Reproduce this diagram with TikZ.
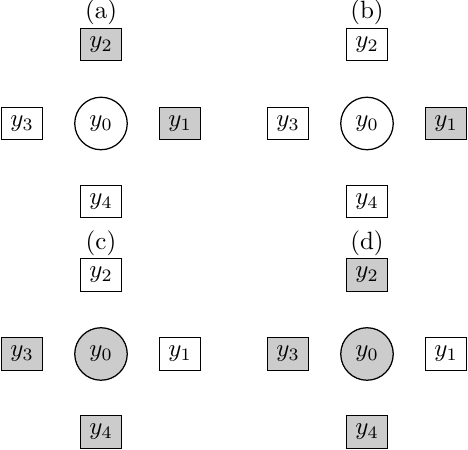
\documentclass[tikz,border=0pt]{standalone}
\begin{document}
\begin{tikzpicture}[x=0.4pt,y=-0.4pt,
  vbox/.style={draw,line width=0.5pt,minimum width=16.6pt,minimum height=13pt,inner sep=0pt},
  vcirc/.style={draw,circle,line width=0.5pt,minimum size=21pt,inner sep=0pt},
  obs/.style={fill=black!20},
  ttl/.style={inner sep=0pt}]
\useasboundingbox (0,0) rectangle (468,450);
% panel a
\begin{scope}[shift={(101,123.5)}]
  \node[ttl] (ta) at (0,-111) {(a)};
  \node[vbox,obs] (a2) at (0,-79) {$y_2$};
  \node[vbox] (a3) at (-79,0) {$y_3$};
  \node[vcirc] (a0) at (0,0) {$y_0$};
  \node[vbox,obs] (a1) at (79,0) {$y_1$};
  \node[vbox] (a4) at (0,78) {$y_4$};
\end{scope}
% panel b
\begin{scope}[shift={(367,123.5)}]
  \node[ttl] (tb) at (0,-111) {(b)};
  \node[vbox] (b2) at (0,-79) {$y_2$};
  \node[vbox] (b3) at (-79,0) {$y_3$};
  \node[vcirc] (b0) at (0,0) {$y_0$};
  \node[vbox,obs] (b1) at (79,0) {$y_1$};
  \node[vbox] (b4) at (0,78) {$y_4$};
\end{scope}
% panel c
\begin{scope}[shift={(101,354)}]
  \node[ttl] (tc) at (0,-111) {(c)};
  \node[vbox] (c2) at (0,-79) {$y_2$};
  \node[vbox,obs] (c3) at (-79,0) {$y_3$};
  \node[vcirc,obs] (c0) at (0,0) {$y_0$};
  \node[vbox] (c1) at (79,0) {$y_1$};
  \node[vbox,obs] (c4) at (0,78) {$y_4$};
\end{scope}
% panel d
\begin{scope}[shift={(367,354)}]
  \node[ttl] (td) at (0,-111) {(d)};
  \node[vbox,obs] (d2) at (0,-79) {$y_2$};
  \node[vbox,obs] (d3) at (-79,0) {$y_3$};
  \node[vcirc,obs] (d0) at (0,0) {$y_0$};
  \node[vbox] (d1) at (79,0) {$y_1$};
  \node[vbox,obs] (d4) at (0,78) {$y_4$};
\end{scope}
\end{tikzpicture}
\end{document}
